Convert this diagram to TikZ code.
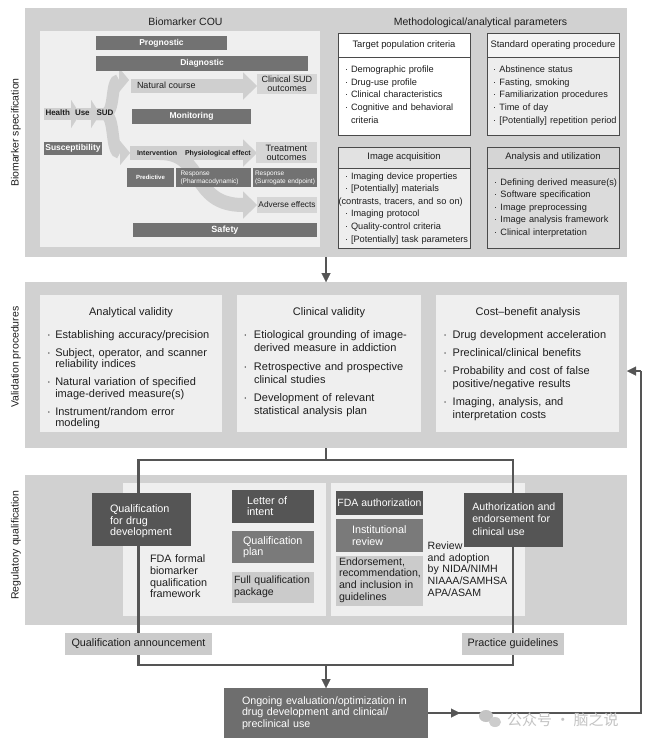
\documentclass[tikz,border=0pt]{standalone}
\usepackage{fontspec}
\setmainfont{Liberation Sans}
\newfontfamily\cjkfont{Noto Sans CJK SC}
\usetikzlibrary{arrows.meta}
\definecolor{secbg}{HTML}{D1D1D1}
\definecolor{panel}{HTML}{EFEFEF}
\definecolor{band}{HTML}{CFCFCF}
\definecolor{darkbar}{HTML}{727272}
\definecolor{darkbox}{HTML}{555555}
\definecolor{midbox}{HTML}{7A7A7A}
\definecolor{lightbox}{HTML}{CBCBCB}
\definecolor{coulight}{HTML}{D6D6D6}
\definecolor{conn}{HTML}{555555}
\definecolor{edge}{HTML}{4A4A4A}
\definecolor{ink}{HTML}{1E1E1E}
\definecolor{ongbox}{HTML}{6E6E6E}
\definecolor{sopH}{HTML}{F4F4F4}
\definecolor{sopB}{HTML}{EDEDED}
\definecolor{iaH}{HTML}{E2E2E2}
\definecolor{iaB}{HTML}{EEEEEE}
\definecolor{auH}{HTML}{D5D5D5}
\definecolor{auB}{HTML}{DBDBDB}
\definecolor{wmgray}{HTML}{C4C4C4}
\newcommand\fs[2]{\fontsize{#1}{#2}\selectfont}
\newlength\bhang \setlength\bhang{7pt}
\newlength\bgap \setlength\bgap{5pt}
\newcommand\bstart{\hangindent=\bhang\hangafter=1\noindent\hbox to \bhang{·\hss}}
\newcommand\bitem{\par\vspace{\bgap}\bstart}
% \rbox[opts]{name}{x1}{y1}{x2}{y2}{text}
\newcommand\rbox[7][]{\node[minimum width={(#5-#3)*1pt},minimum height={(#6-#4)*1pt},#1] (#2) at ({(#3+#5)/2},{(#4+#6)/2}) {#7};}
\pgfdeclarelayer{back}\pgfdeclarelayer{mid}\pgfsetlayers{back,mid,main}
\begin{document}
\begin{tikzpicture}[x=1pt,y=-1pt,
  every node/.style={inner sep=0pt,outer sep=0pt,text=ink},
  lst/.style={anchor=base west,text width=#1,align=left},
  lbl/.style={anchor=base west},
  cline/.style={draw=conn,line width=2.4pt},
  tip/.style={-{Triangle[length=9pt,width=9pt,line width=0.01pt]}},
  bigarr/.style={draw=band,line width=14pt,-{Triangle[length=14pt,width=27pt,line width=0.01pt]}},
  smallarr/.style={draw=band,line width=12pt,-{Triangle[length=9pt,width=28pt,line width=0.01pt]}},
  hdr/.style={draw=edge,line width=0.8pt,font=\fs{9.4}{11}},
  dbar/.style={fill=darkbar,text=white,font=\bfseries\fs{8.5}{10}},
  rtxt/.style={font=\fs{10.8}{11.7}},
]
\useasboundingbox (0,0) rectangle (660,740);
\begin{pgfonlayer}{back}
\fill[white] (0,0) rectangle (660,740);
% sections
\rbox[fill=secbg]{spec}{25}{8}{627}{257}{}
\rbox[fill=secbg]{valid}{25}{282}{627}{448}{}
\rbox[fill=secbg]{regul}{25}{475}{627}{625}{}
% panels
\rbox[fill=panel]{cou}{40}{31}{320}{247}{}
\rbox[fill=panel]{pav}{40}{295}{222}{432}{}
\rbox[fill=panel]{pcv}{237}{295}{421}{432}{}
\rbox[fill=panel]{pcb}{436}{295}{619}{432}{}
\rbox[fill=panel]{rp1}{123}{483}{326}{616}{}
\rbox[fill=panel]{rp2}{331}{483}{525}{616}{}
\end{pgfonlayer}

% section labels
\node[rotate=90,font=\fs{10.5}{12}] (lab1) at (16,132.5) {Biomarker specification};
\node[rotate=90,font=\fs{10.5}{12}] (lab2) at (16,357) {Validation procedures};
\node[rotate=90,font=\fs{10.5}{12}] (lab3) at (16,545) {Regulatory qualification};

% titles
\node[font=\fs{10.5}{12},anchor=base] (tcou) at (185.5,25.5) {Biomarker COU};
\node[font=\fs{10.5}{12},anchor=base] (tmeth) at (480.5,25.5) {Methodological/analytical parameters};

% ---- COU content
\begin{pgfonlayer}{mid}
\draw[smallarr] (44,114) -- (80,114);
\draw[smallarr] (77,114) -- (100,114);
\draw[draw=band,line width=12pt,-{Triangle[length=10pt,width=24pt,line width=0.01pt]}] (96,114) -- (104,114) .. controls (116,114) and (110,80) .. (129,80);
\draw[draw=band,line width=12pt,-{Triangle[length=10pt,width=24pt,line width=0.01pt]}] (96,114) -- (104,114) .. controls (116,114) and (110,153) .. (130,153);
\draw[bigarr] (131,86) -- (257,86);
\draw[bigarr] (130,153) -- (257,153);
\draw[bigarr] (160,153) .. controls (205,153) and (190,205) .. (257,205);
\end{pgfonlayer}
\node[lbl,font=\bfseries\fs{8}{9}] (thealth) at (45.5,115.7) {Health};
\node[lbl,font=\bfseries\fs{8}{9}] (tuse) at (75,115.7) {Use};
\node[lbl,font=\bfseries\fs{8}{9}] (tsud) at (96.5,115.7) {SUD};
\node[lbl,font=\fs{9}{10}] (tnat) at (137,88.3) {Natural course};
\node[lbl,font=\bfseries\fs{7}{8}] (tint) at (137,155.5) {Intervention};
\node[lbl,font=\bfseries\fs{7}{8}] (tphys) at (185,155.5) {Physiological effect};

\rbox[dbar]{prog}{96}{36}{227}{50}{Prognostic}
\rbox[dbar]{diag}{96}{56}{308}{71}{Diagnostic}
\rbox[dbar]{mon}{132}{109}{251}{124}{Monitoring}
\rbox[dbar]{susc}{44}{142}{102}{155}{Susceptibility}
\rbox[dbar,font=\bfseries\fs{6}{7}]{pred}{127}{168}{174}{187}{Predictive}
\rbox[fill=darkbar]{rpd}{176}{168}{251}{187}{}
\node[lst=72pt,text=white,font=\fs{6.5}{8.3}] (trpd) at (180.5,175.5) {Response\\(Pharmacodynamic)};
\rbox[fill=darkbar]{rse}{253}{168}{317}{187}{}
\node[lst=66pt,text=white,font=\fs{6.5}{8.3}] (trse) at (255,175.5) {Response\\(Surrogate endpoint)};
\rbox[fill=coulight,font=\fs{9}{9.3},align=center]{csud}{257}{74}{317}{94}{Clinical SUD\\outcomes}
\rbox[fill=coulight,font=\fs{9.2}{8.8},align=center]{trt}{256}{142}{317}{163}{Treatment\\outcomes}
\rbox[fill=coulight,font=\fs{8.3}{9}]{adv}{257}{197}{317}{213}{Adverse effects}
\rbox[dbar,font=\bfseries\fs{9}{10}]{safe}{133}{223}{317}{237}{Safety}

% ---- methodological boxes
\rbox[hdr,fill=white]{tph}{338}{33}{470}{57}{Target population criteria}
\rbox[hdr,fill=white]{tpb}{338}{57}{470}{135}{}
\node[lst=130pt,font=\fs{9.2}{12.6}] (tpl) at (345,72.7) {\setlength\bhang{6pt}\setlength\bgap{0pt}\bstart Demographic profile\bitem Drug-use profile\bitem Clinical characteristics\bitem Cognitive and behavioral\newline criteria\par};

\rbox[hdr,fill=sopH]{soph}{487}{33}{619}{57}{Standard operating procedure}
\rbox[hdr,fill=sopB]{sopb}{487}{57}{619}{135}{}
\node[lst=130pt,font=\fs{9.2}{12.6}] (sopl) at (493,72.7) {\setlength\bhang{6.5pt}\setlength\bgap{0pt}\bstart Abstinence status\bitem Fasting, smoking\bitem Familiarization procedures\bitem Time of day\bitem [Potentially] repetition period\par};

\rbox[hdr,fill=iaH]{iah}{338}{147}{470}{168}{Image acquisition}
\rbox[hdr,fill=iaB]{iab}{338}{168}{470}{248}{}
\node[lst=130pt,font=\fs{9.2}{12.6}] (ial) at (345,179) {\setlength\bhang{6pt}\setlength\bgap{0pt}\bstart Imaging device properties\bitem [Potentially] materials\newline\hspace*{-12.5pt}(contrasts, tracers, and so on)\bitem Imaging protocol\bitem Quality-control criteria\bitem [Potentially] task parameters\par};

\rbox[hdr,fill=auH]{auh}{487}{147}{619}{168}{Analysis and utilization}
\rbox[hdr,fill=auB]{aub}{487}{168}{619}{248}{}
\node[lst=130pt,font=\fs{9.2}{12.6}] (aul) at (494,185) {\setlength\bhang{6.5pt}\setlength\bgap{0pt}\bstart Defining derived measure(s)\bitem Software specification\bitem Image preprocessing\bitem Image analysis framework\bitem Clinical interpretation\par};

% ---- validation
\node[font=\fs{11}{13},anchor=base] (tav) at (131,315) {Analytical validity};
\node[font=\fs{11}{13},anchor=base] (tcv) at (329,315) {Clinical validity};
\node[font=\fs{11}{13},anchor=base] (tcb) at (528,315) {Cost–benefit analysis};
\node[lst=180pt,font=\fs{11}{11.8}] (lav) at (47,338.3) {\setlength\bhang{8.3pt}\setlength\bgap{5.9pt}\bstart Establishing accuracy/precision\bitem Subject, operator, and scanner\newline reliability indices\bitem Natural variation of specified\newline image-derived measure(s)\bitem Instrument/random error\newline modeling\par};
\node[lst=180pt,font=\fs{11}{12.9}] (lcv) at (243.5,338.3) {\setlength\bhang{10.5pt}\setlength\bgap{6pt}\bstart Etiological grounding of image-\newline derived measure in addiction\bitem Retrospective and prospective\newline clinical studies\bitem Development of relevant\newline statistical analysis plan\par};
\node[lst=180pt,font=\fs{11}{12.7}] (lcb) at (443.3,338.3) {\setlength\bhang{9.4pt}\setlength\bgap{5.4pt}\bstart Drug development acceleration\bitem Preclinical/clinical benefits\bitem Probability and cost of false\newline positive/negative results\bitem Imaging, analysis, and\newline interpretation costs\par};

% ---- regulatory boxes
\rbox[fill=darkbox]{qdd}{92}{493}{191}{546}{}
\rbox[fill=darkbox]{loi}{232}{490}{314}{523}{}
\rbox[fill=midbox]{qpl}{232}{531}{314}{563}{}
\rbox[fill=lightbox]{fqp}{232}{572}{314}{603}{}
\rbox[fill=darkbox,text=white,font=\fs{10.5}{12}]{fdaa}{336}{491}{423}{515}{FDA authorization}
\rbox[fill=midbox]{inst}{336}{519}{423}{552}{}
\rbox[fill=lightbox]{endo}{336}{556}{423}{606}{}
\rbox[fill=darkbox]{auth}{464}{493}{563}{547}{}
\rbox[fill=lightbox,font=\fs{10.8}{12}]{qann}{65}{633}{212}{655}{Qualification announcement}
\rbox[fill=lightbox,font=\fs{10.8}{12}]{pg}{462}{633}{564}{655}{Practice guidelines}
\rbox[fill=ongbox]{ong}{224}{688}{428}{738}{}

\node[lst=90pt,rtxt,text=white] (tqdd) at (110,512.3) {Qualification\\for drug\\development};
\node[lst=90pt,rtxt] (tfdaf) at (150,562.7) {FDA formal\\biomarker\\qualification\\framework};
\node[lst=80pt,rtxt,text=white] (tloi) at (247,504) {Letter of\\intent};
\node[lst=80pt,rtxt,text=white] (tqpl) at (243,544) {Qualification\\plan};
\node[lst=84pt,rtxt,font=\fs{10.5}{12.3}] (tfqp) at (234,583.3) {Full qualification\\package};
\node[lst=80pt,rtxt,text=white] (tinst) at (352,533.3) {Institutional\\review};
\node[lst=90pt,rtxt,font=\fs{10.6}{11.9}] (tendo) at (339,565) {Endorsement,\\recommendation,\\and inclusion in\\guidelines};
\node[lst=90pt,rtxt,font=\fs{10.6}{11.8}] (trev) at (427.7,549.3) {Review\\and adoption\\by NIDA/NIMH\\NIAAA/SAMHSA\\APA/ASAM};
\node[lst=95pt,rtxt,text=white,font=\fs{10.6}{12.5}] (tauth) at (472.3,510) {Authorization and\\endorsement for\\clinical use};
\node[lst=190pt,text=white,font=\fs{10.7}{11.7}] (tong) at (242,704) {Ongoing evaluation/optimization in\\drug development and clinical/\\preclinical use};

% ---- connectors
\coordinate (bm) at (326,665);
\coordinate (fr) at (641,713);
\coordinate (fu) at (641,371);
\coordinate (midtip) at (460,713);
\begin{pgfonlayer}{mid}
\draw[cline,tip] (spec.south) -- (valid.north);
\draw[cline] (valid.south) -- (valid.south |- 0,460);
\draw[cline] (qann.north) -- (qann.north |- 0,460) -- (pg.north |- 0,460) -- (pg.north);
\draw[cline] (qann.south) -- ++(0,10) -| (pg.south);
\draw[cline,tip] (bm) -- (ong.north);
\draw[cline] (ong.east) -- (fr) -- (fu);
\draw[cline,tip] (fu) -- (valid.east |- fu);
\draw[cline,tip] (ong.east) -- (midtip);
\end{pgfonlayer}

% ---- watermark
\fill[wmgray] (486,716) ellipse (7pt and 6pt);
\fill[wmgray!85] (495,722) ellipse (6pt and 5pt);
\node[anchor=west,text=wmgray,font=\cjkfont\fs{15}{15}] (wm) at (507,720) {公众号 · 脑之说};
\end{tikzpicture}
\end{document}
